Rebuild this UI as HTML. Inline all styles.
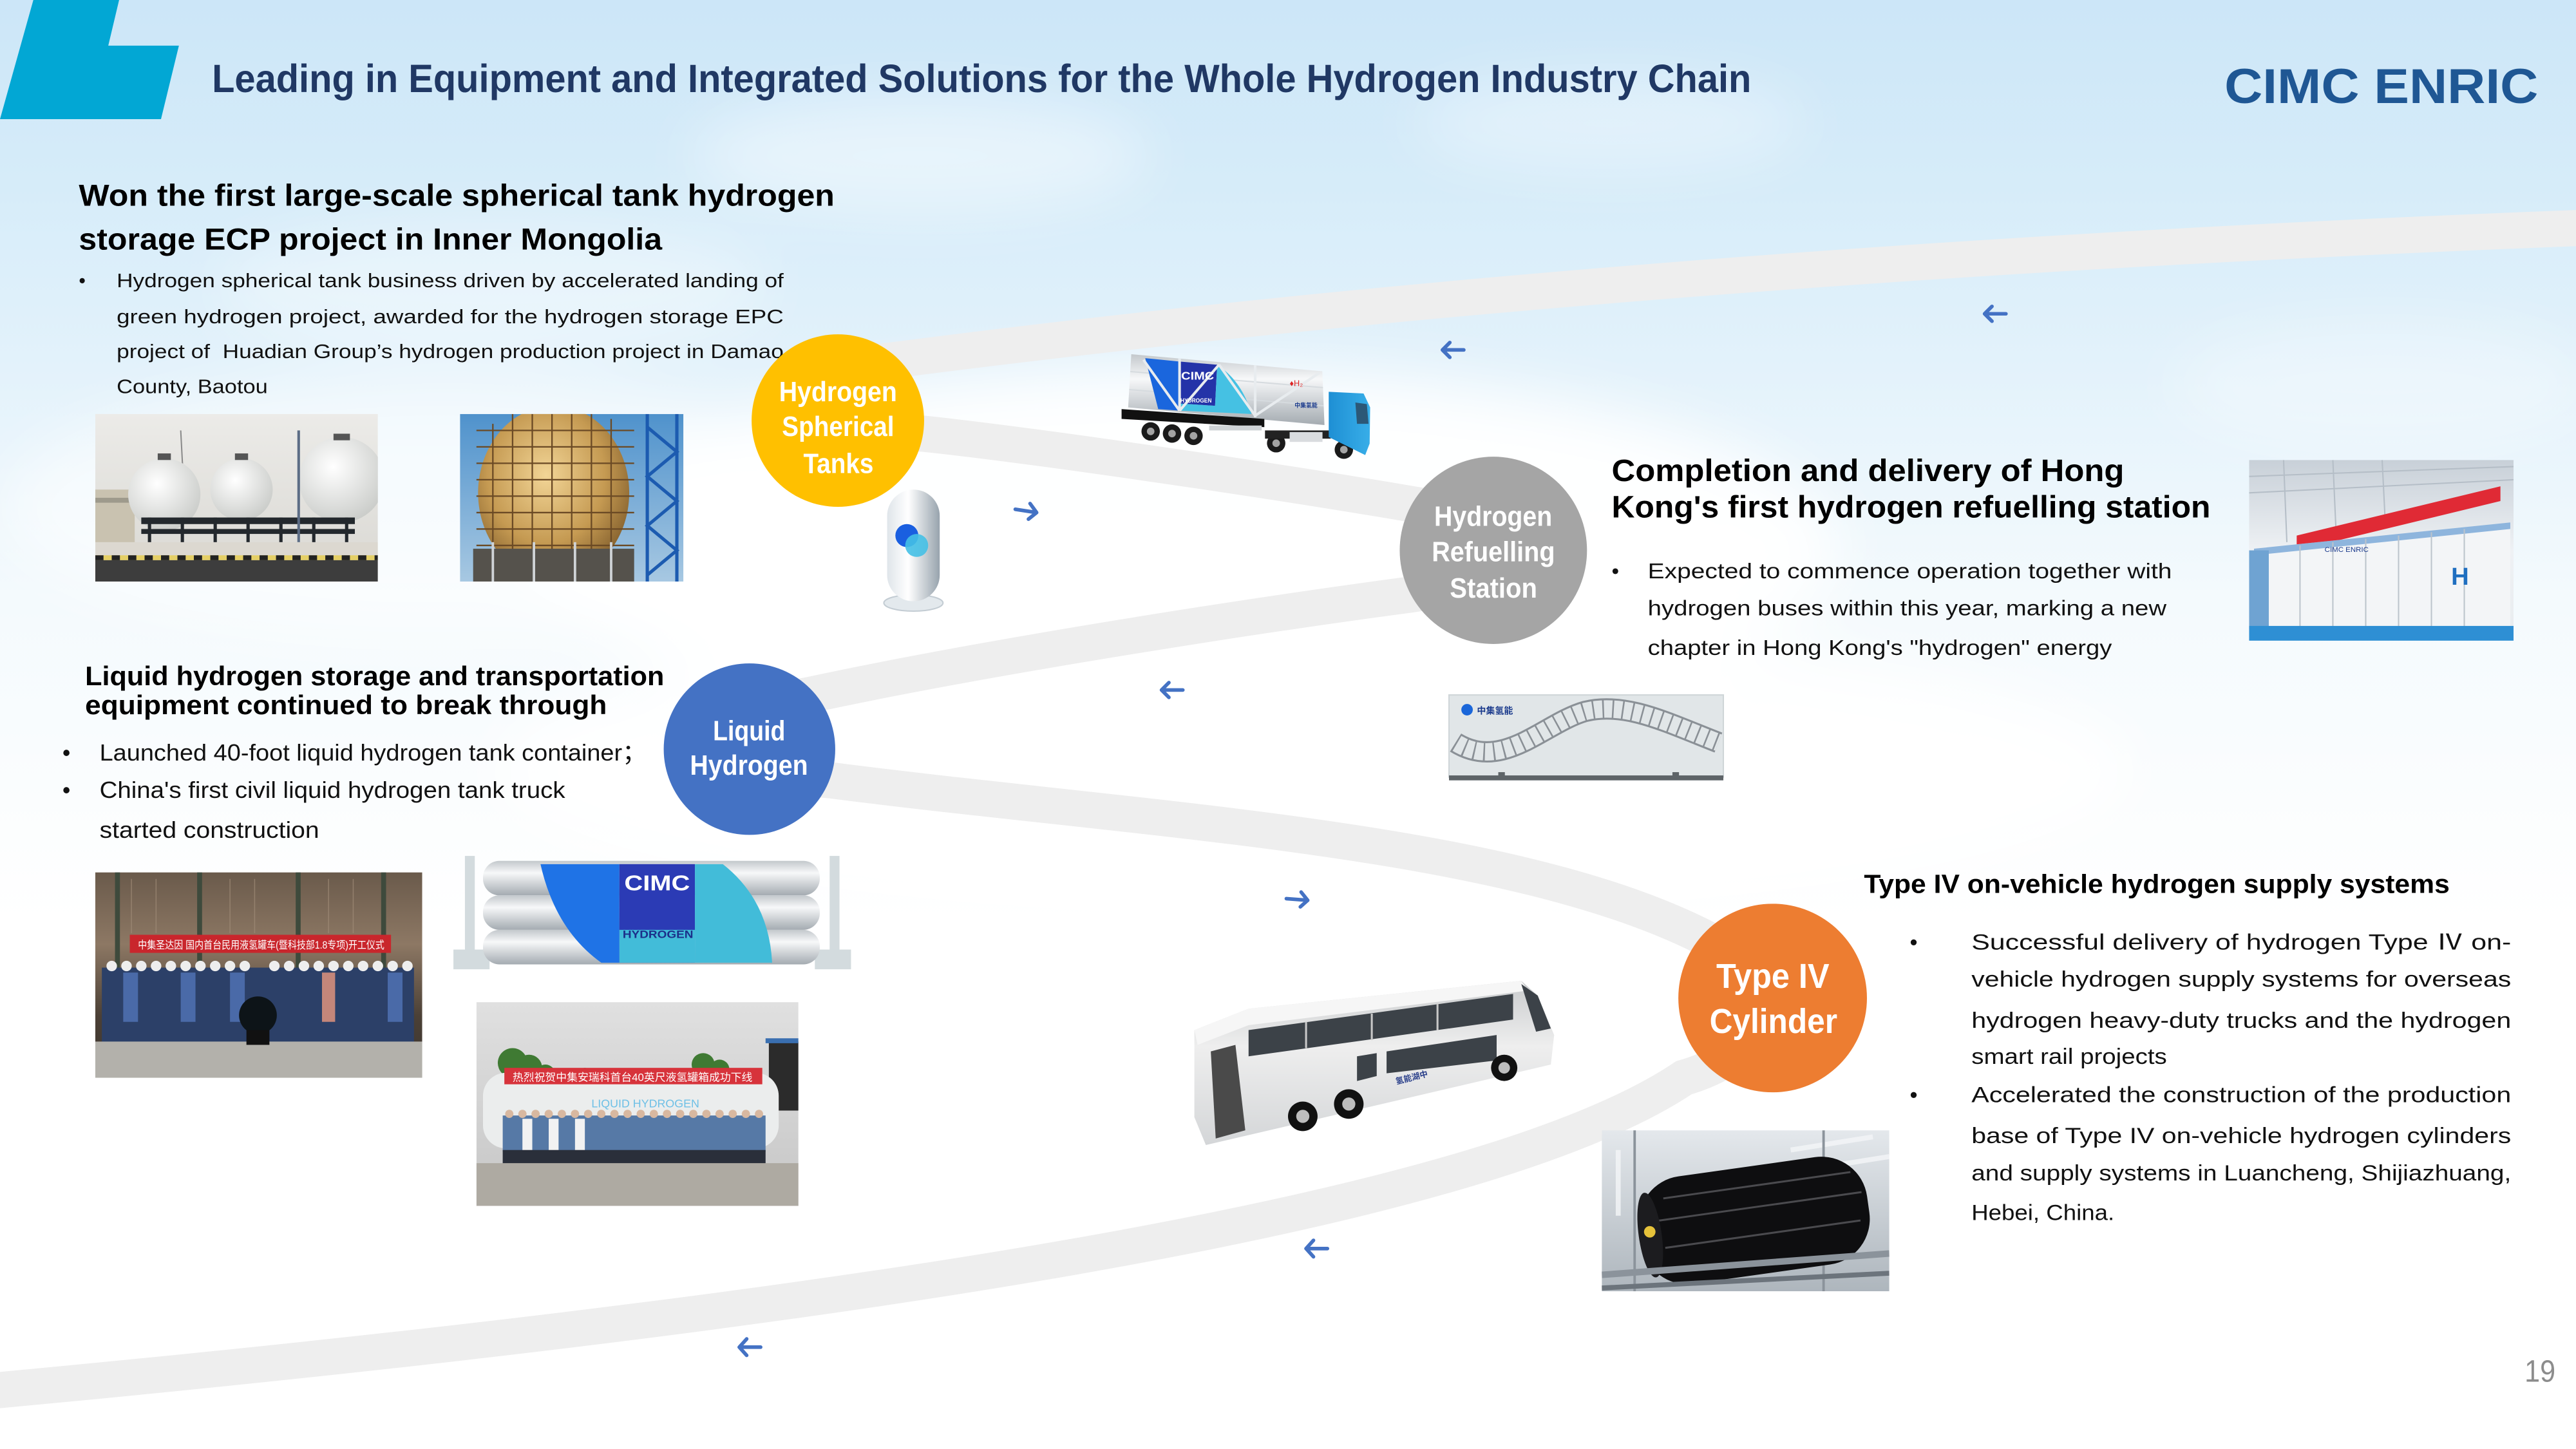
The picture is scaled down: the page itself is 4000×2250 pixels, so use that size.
<!DOCTYPE html>
<html><head><meta charset="utf-8"><title>CIMC ENRIC - Hydrogen Industry Chain</title>
<style>
html,body{margin:0;padding:0;width:4000px;height:2250px;overflow:hidden;background:#fff}
svg{display:block}
.t{font-family:"Liberation Sans","Noto Sans CJK SC",Arial,sans-serif}
.b{font-weight:bold}
</style></head><body>
<svg xmlns="http://www.w3.org/2000/svg" width="4000" height="2250" viewBox="0 0 1568 882">
<defs>
<linearGradient id="sky" x1="0" y1="0" x2="0" y2="1">
<stop offset="0" stop-color="#cce6f8"/><stop offset="0.2" stop-color="#d6ecf9"/><stop offset="0.4" stop-color="#e3f2fb"/><stop offset="0.65" stop-color="#f4fafd"/><stop offset="1" stop-color="#ffffff"/>
</linearGradient>
<filter id="blur" x="-50%" y="-50%" width="200%" height="200%"><feGaussianBlur stdDeviation="18"/></filter>
<linearGradient id="cyl" x1="0" y1="0" x2="0" y2="1"><stop offset="0" stop-color="#c3c8cc"/><stop offset="0.35" stop-color="#f7f8f9"/><stop offset="1" stop-color="#a4abb1"/></linearGradient>
<linearGradient id="caps" x1="0" y1="0" x2="1" y2="0"><stop offset="0" stop-color="#dfe5ea"/><stop offset="0.4" stop-color="#ffffff"/><stop offset="1" stop-color="#97a3ad"/></linearGradient>
<linearGradient id="p1sky" x1="0" y1="0" x2="0" y2="1"><stop offset="0" stop-color="#ecebe8"/><stop offset="1" stop-color="#d9d8d3"/></linearGradient>
<radialGradient id="sph" cx="0.4" cy="0.35" r="0.7"><stop offset="0" stop-color="#ffffff"/><stop offset="1" stop-color="#c9cbc8"/></radialGradient>
<linearGradient id="p2sky" x1="0" y1="0" x2="0" y2="1"><stop offset="0" stop-color="#4f92cc"/><stop offset="1" stop-color="#a7c8e2"/></linearGradient>
<radialGradient id="gold" cx="0.45" cy="0.4" r="0.65"><stop offset="0" stop-color="#f2d596"/><stop offset="0.6" stop-color="#c59a52"/><stop offset="1" stop-color="#7d5a2a"/></radialGradient>
<linearGradient id="rp" x1="0" y1="0" x2="0" y2="1"><stop offset="0" stop-color="#c8d0d8"/><stop offset="0.5" stop-color="#eef1f4"/><stop offset="1" stop-color="#e8ecef"/></linearGradient>
<linearGradient id="l1" x1="0" y1="0" x2="0" y2="1"><stop offset="0" stop-color="#6a5a4b"/><stop offset="0.35" stop-color="#8d7864"/><stop offset="0.7" stop-color="#4b4036"/><stop offset="1" stop-color="#3a342e"/></linearGradient>
<linearGradient id="l3" x1="0" y1="0" x2="0" y2="1"><stop offset="0" stop-color="#e0e0e0"/><stop offset="1" stop-color="#c6c6c6"/></linearGradient>
<linearGradient id="cp" x1="0" y1="0" x2="0" y2="1"><stop offset="0" stop-color="#e4e8ec"/><stop offset="1" stop-color="#aeb6bd"/></linearGradient>
<linearGradient id="bus" x1="0" y1="0" x2="0" y2="1"><stop offset="0" stop-color="#c9cbcd"/><stop offset="0.4" stop-color="#eeeeee"/><stop offset="1" stop-color="#d4d6d8"/></linearGradient>
<linearGradient id="cab" x1="0" y1="0" x2="1" y2="0"><stop offset="0" stop-color="#1e8fd4"/><stop offset="1" stop-color="#38aee8"/></linearGradient>
<clipPath id="c1"><rect x="58" y="252" width="172" height="102"/></clipPath>
<clipPath id="c2"><rect x="280" y="252" width="136" height="102"/></clipPath>
<clipPath id="c3"><rect x="1369" y="280" width="161" height="110"/></clipPath>
<clipPath id="c4"><rect x="58" y="531" width="199" height="125"/></clipPath>
<clipPath id="c5"><rect x="290" y="610" width="196" height="124"/></clipPath>
<clipPath id="c6"><rect x="975" y="688" width="175" height="98"/></clipPath>
<clipPath id="ctr"><polygon points="688.6,215.6 804.9,226 806.2,258.7 686.7,248"/></clipPath>
</defs>

<!-- background -->
<rect x="0" y="0" width="1568" height="882" fill="#ffffff"/>
<rect x="0" y="0" width="1568" height="560" fill="url(#sky)"/>
<g filter="url(#blur)">
<ellipse cx="720" cy="335" rx="400" ry="110" fill="#ffffff" opacity="0.95"/>
<ellipse cx="260" cy="310" rx="260" ry="80" fill="#ffffff" opacity="0.55"/>
<ellipse cx="560" cy="95" rx="140" ry="35" fill="#ffffff" opacity="0.45"/>
<ellipse cx="980" cy="75" rx="120" ry="30" fill="#ffffff" opacity="0.35"/>
<ellipse cx="300" cy="175" rx="170" ry="40" fill="#ffffff" opacity="0.35"/>
<ellipse cx="1450" cy="235" rx="130" ry="40" fill="#ffffff" opacity="0.3"/>
<ellipse cx="800" cy="470" rx="500" ry="90" fill="#ffffff" opacity="0.9"/>
</g>

<!-- top-left logo shape -->
<polygon points="20.3,0 72.5,0 65.9,27.8 108.9,27.8 98,72.5 0,72.5" fill="#02a7d4"/>

<!-- title -->
<text class="t b" x="129" y="56" font-size="24" fill="#203864" textLength="937" lengthAdjust="spacingAndGlyphs">Leading in Equipment and Integrated Solutions for the Whole Hydrogen Industry Chain</text>
<text class="t" x="1354" y="62.7" font-size="30" font-weight="900" fill="#1f5794" textLength="191" lengthAdjust="spacingAndGlyphs">CIMC ENRIC</text>

<!-- road band -->
<path d="M1590,138 Q1000,160 538,220 C500,225 488,262 562,264 C620,270 760,290 860,307 C930,318 930,352 858,362 C760,375 600,400 493,423 C440,432 440,470 506,475 C700,500 920,510 1040,572 C1090,598 1080,640 1025,656 C900,740 500,800 -20,848" fill="none" stroke="#eeeeee" stroke-width="22"/>

<!-- arrows -->
<g fill="none" stroke="#4472c4" stroke-width="2.2" stroke-linecap="round" stroke-linejoin="round">
<path d="M1221,191 L1208,191 M1212.5,186.5 L1208,191 L1212.5,195.5"/>
<path d="M891,213 L878,213 M882.5,208.5 L878,213 L882.5,217.5"/>
<path d="M618,310 L631,312 M627,306.5 L631,312 L626,316"/>
<path d="M720,420 L707,420 M711.5,415.5 L707,420 L711.5,424.5"/>
<path d="M783,547 L796,548 M792,543 L796,548 L791.5,552"/>
<path d="M808,760 L795,760 M799.5,755 L795,760 L799.5,765"/>
<path d="M463,820 L450,820 M454.5,815 L450,820 L454.5,825"/>
</g>

<!-- block 1 -->
<text class="t b" x="48" y="125.3" font-size="18.5" fill="#000" textLength="460" lengthAdjust="spacingAndGlyphs">Won the first large-scale spherical tank hydrogen</text>
<text class="t b" x="48" y="152" font-size="18.5" fill="#000" textLength="355" lengthAdjust="spacingAndGlyphs">storage ECP project in Inner Mongolia</text>
<g class="t" font-size="11.8" fill="#111">
<text x="48" y="174.8">•</text>
<text x="71" y="174.8" textLength="406" lengthAdjust="spacingAndGlyphs">Hydrogen spherical tank business driven by accelerated landing of</text>
<text x="71" y="196.8" textLength="406" lengthAdjust="spacingAndGlyphs">green hydrogen project, awarded for the hydrogen storage EPC</text>
<text x="71" y="218" textLength="406" lengthAdjust="spacingAndGlyphs">project of&#160; Huadian Group’s hydrogen production project in Damao</text>
<text x="71" y="239.3" textLength="92" lengthAdjust="spacingAndGlyphs">County, Baotou</text>
</g>

<!-- photo 1: spherical tanks -->
<g clip-path="url(#c1)">
<rect x="58" y="252" width="172" height="102" fill="url(#p1sky)"/>
<line x1="110" y1="262" x2="112" y2="300" stroke="#8a8a8a" stroke-width="0.8"/>
<rect x="58" y="298" width="24" height="42" fill="#c9c2b0"/>
<rect x="58" y="303" width="24" height="3" fill="#9e9a8c"/>
<circle cx="100" cy="301" r="22" fill="url(#sph)"/>
<circle cx="147" cy="298" r="19" fill="url(#sph)"/>
<circle cx="208" cy="292" r="26" fill="url(#sph)"/>
<rect x="96" y="276" width="8" height="4" fill="#555"/>
<rect x="143" y="276" width="8" height="4" fill="#555"/>
<rect x="203" y="264" width="10" height="4" fill="#555"/>
<rect x="86" y="315" width="130" height="4" fill="#23282d"/>
<rect x="86" y="322" width="130" height="3" fill="#23282d"/>
<g fill="#23282d"><rect x="90" y="315" width="2" height="26"/><rect x="110" y="315" width="2" height="26"/><rect x="130" y="315" width="2" height="26"/><rect x="150" y="315" width="2" height="26"/><rect x="170" y="315" width="2" height="26"/><rect x="190" y="315" width="2" height="26"/><rect x="210" y="315" width="2" height="26"/></g>
<rect x="181" y="262" width="1.6" height="80" fill="#5b6c85"/>
<rect x="58" y="330" width="172" height="10" fill="#dcd8d0"/>
<rect x="58" y="338" width="172" height="3" fill="#e5cf66"/>
<line x1="58" y1="339.5" x2="230" y2="339.5" stroke="#222" stroke-width="3" stroke-dasharray="5 5"/>
<rect x="58" y="341" width="172" height="13" fill="#3d3d3d"/>
</g>

<!-- photo 2: sphere under construction -->
<g clip-path="url(#c2)">
<rect x="280" y="252" width="136" height="102" fill="url(#p2sky)"/>
<ellipse cx="337" cy="300" rx="46" ry="53" fill="url(#gold)"/>
<g stroke="#6b4a25" stroke-width="0.9">
<line x1="290" y1="262" x2="386" y2="262"/><line x1="290" y1="272" x2="386" y2="272"/><line x1="290" y1="282" x2="386" y2="282"/><line x1="290" y1="292" x2="386" y2="292"/><line x1="290" y1="302" x2="386" y2="302"/><line x1="290" y1="312" x2="386" y2="312"/><line x1="290" y1="322" x2="386" y2="322"/><line x1="290" y1="332" x2="386" y2="332"/>
<line x1="300" y1="258" x2="300" y2="354"/><line x1="312" y1="252" x2="312" y2="354"/><line x1="324" y1="252" x2="324" y2="354"/><line x1="336" y1="252" x2="336" y2="354"/><line x1="348" y1="252" x2="348" y2="354"/><line x1="360" y1="252" x2="360" y2="354"/><line x1="372" y1="255" x2="372" y2="354"/>
</g>
<rect x="288" y="334" width="98" height="20" fill="#55524c"/>
<g stroke="#cfd3d6" stroke-width="1.5"><line x1="300" y1="330" x2="300" y2="354"/><line x1="325" y1="330" x2="325" y2="354"/><line x1="350" y1="330" x2="350" y2="354"/><line x1="372" y1="330" x2="372" y2="354"/></g>
<g stroke="#1c5bb0" stroke-width="2" fill="none"><line x1="394" y1="252" x2="394" y2="354"/><line x1="412" y1="252" x2="412" y2="354"/><path d="M394,260 L412,275 L394,290 L412,305 L394,320 L412,335 L394,350"/></g>
</g>

<!-- capsule tank -->
<ellipse cx="556" cy="367" rx="18" ry="5" fill="#e3e9ed" stroke="#c3ccd3" stroke-width="0.8"/>
<rect x="540" y="298" width="32" height="68" rx="16" fill="url(#caps)"/>
<circle cx="552" cy="326" r="7" fill="#1a5fe0"/>
<circle cx="558" cy="332" r="7" fill="#45c0e6" opacity="0.9"/>

<!-- truck -->
<g>
<polygon points="688.6,215.6 804.9,226 806.2,258.7 686.7,248" fill="url(#cyl)"/>
<g clip-path="url(#ctr)">
<g stroke="#d6dbdf" stroke-width="0.8"><line x1="686" y1="226" x2="806" y2="236"/><line x1="686" y1="237" x2="806" y2="247"/></g>
<polygon points="697.1,218 717.4,220 718.7,250 705,249" fill="#1a66dd"/>
<polygon points="717.4,220 740.9,222 739.6,247 717.4,245.6" fill="#2433a8"/>
<path d="M740.9,222 Q756,232 761.8,252 L718.7,250 L717.4,245.6 L739.6,247 Z" fill="#45c1e3"/>
<g stroke="#e8ecef" stroke-width="1.6"><line x1="696" y1="219" x2="718" y2="250"/><line x1="718" y1="250" x2="742" y2="222"/><line x1="742" y1="222" x2="764" y2="253"/><line x1="764" y1="253" x2="803" y2="227"/><line x1="718" y1="218" x2="718" y2="250"/><line x1="764" y1="222" x2="764" y2="254"/></g>
</g>
<text class="t b" x="719" y="231" font-size="7" fill="#ffffff" textLength="20" lengthAdjust="spacingAndGlyphs">CIMC</text>
<text class="t b" x="718.5" y="245" font-size="3.5" fill="#ffffff" textLength="19" lengthAdjust="spacingAndGlyphs">HYDROGEN</text>
<text class="t" x="785" y="235" font-size="5" fill="#d22">♦H₂</text>
<text class="t b" x="788" y="248" font-size="3.5" fill="#1a3a8c">中集氢能</text>
<polygon points="682.7,249 769.6,255 769.6,260 682.7,255" fill="#111"/>
<rect x="736" y="259" width="32" height="3" fill="#cfd3d6"/>
<g fill="#1a1a1a"><circle cx="700.4" cy="262.6" r="5.6"/><circle cx="713.4" cy="263.9" r="5.6"/><circle cx="726.5" cy="265.3" r="5.6"/><circle cx="776.8" cy="269.8" r="5.6"/><circle cx="818" cy="273.7" r="5.6"/></g>
<g fill="#a3a3a3"><circle cx="700.4" cy="262.6" r="2.3"/><circle cx="713.4" cy="263.9" r="2.3"/><circle cx="726.5" cy="265.3" r="2.3"/><circle cx="776.8" cy="269.8" r="2.3"/><circle cx="818" cy="273.7" r="2.3"/></g>
<rect x="770" y="262" width="40" height="5" fill="#222"/>
<rect x="785" y="263" width="20" height="6" fill="#d9dcdf"/>
<polygon points="808.8,238.5 830,239.5 834,248 833.7,270 831,277 808.8,266" fill="url(#cab)"/>
<polygon points="825,245 832,246 833,258 826,258" fill="#2c5877"/>
</g>

<!-- circles -->
<circle cx="510" cy="256" r="52.5" fill="#ffc000"/>
<circle cx="909" cy="335" r="57" fill="#a5a5a5"/>
<circle cx="456.2" cy="456" r="52.2" fill="#4472c4"/>
<circle cx="1079" cy="607.5" r="57.4" fill="#ed7d31"/>
<g class="t b" fill="#ffffff">
<text x="474.2" y="244.3" font-size="17" textLength="71.8" lengthAdjust="spacingAndGlyphs">Hydrogen</text>
<text x="476" y="265.4" font-size="17" textLength="68.3" lengthAdjust="spacingAndGlyphs">Spherical</text>
<text x="489" y="288" font-size="17" textLength="42.7" lengthAdjust="spacingAndGlyphs">Tanks</text>
<text x="873" y="320" font-size="17" textLength="71.8" lengthAdjust="spacingAndGlyphs">Hydrogen</text>
<text x="871.5" y="341.6" font-size="17" textLength="75" lengthAdjust="spacingAndGlyphs">Refuelling</text>
<text x="882.5" y="363.8" font-size="17" textLength="53.2" lengthAdjust="spacingAndGlyphs">Station</text>
<text x="434" y="450.7" font-size="17" textLength="44" lengthAdjust="spacingAndGlyphs">Liquid</text>
<text x="420" y="471.6" font-size="17" textLength="71.8" lengthAdjust="spacingAndGlyphs">Hydrogen</text>
<text x="1044.7" y="601.4" font-size="21" textLength="68.8" lengthAdjust="spacingAndGlyphs">Type IV</text>
<text x="1040.6" y="628.8" font-size="21" textLength="77.8" lengthAdjust="spacingAndGlyphs">Cylinder</text>
</g>

<!-- block 2 -->
<text class="t b" x="981" y="292.8" font-size="19" fill="#000" textLength="312" lengthAdjust="spacingAndGlyphs">Completion and delivery of Hong</text>
<text class="t b" x="981" y="315" font-size="19" fill="#000" textLength="364.5" lengthAdjust="spacingAndGlyphs">Kong's first hydrogen refuelling station</text>
<g class="t" font-size="13" fill="#111">
<text x="981" y="352">•</text>
<text x="1003" y="352" textLength="319" lengthAdjust="spacingAndGlyphs">Expected to commence operation together with</text>
<text x="1003" y="374.5" textLength="315.7" lengthAdjust="spacingAndGlyphs">hydrogen buses within this year, marking a new</text>
<text x="1003" y="398.7" textLength="282.5" lengthAdjust="spacingAndGlyphs">chapter in Hong Kong's "hydrogen" energy</text>
</g>

<!-- right photo: refuelling station -->
<g clip-path="url(#c3)">
<rect x="1369" y="280" width="161" height="110" fill="url(#rp)"/>
<g stroke="#b5bec7" stroke-width="0.8"><line x1="1369" y1="290" x2="1530" y2="284"/><line x1="1369" y1="300" x2="1530" y2="292"/><line x1="1390" y1="280" x2="1392" y2="330"/><line x1="1420" y1="280" x2="1422" y2="325"/><line x1="1450" y1="280" x2="1452" y2="320"/></g>
<polygon points="1398,326 1522,296 1522,305 1398,335" fill="#e02a35"/>
<polygon points="1372,334 1528,318 1528,386 1372,382" fill="#f3f5f7"/>
<polygon points="1372,334 1528,318 1528,322 1372,338" fill="#3a7fc8" opacity="0.55"/>
<g stroke="#bcc4cc" stroke-width="0.8"><line x1="1400" y1="332" x2="1400" y2="383"/><line x1="1420" y1="330" x2="1420" y2="383"/><line x1="1440" y1="328" x2="1440" y2="384"/><line x1="1460" y1="326" x2="1460" y2="384"/><line x1="1480" y1="324" x2="1480" y2="385"/><line x1="1500" y1="322" x2="1500" y2="385"/></g>
<rect x="1369" y="335" width="12" height="48" fill="#6fa3d2"/>
<text class="t b" x="1492" y="356" font-size="15" fill="#1f6fc0">H</text>
<text class="t" x="1415" y="336" font-size="4.5" fill="#1a3a8c">CIMC ENRIC</text>
<rect x="1369" y="381" width="161" height="9" fill="#2e8fd4"/>
</g>

<!-- station image -->
<rect x="882" y="423" width="167" height="50" fill="#e1e6e8" stroke="#cfd5d8" stroke-width="0.8"/>
<path d="M886,452 C915,470 940,440 965,433 C990,427 1015,440 1046,452" fill="none" stroke="#8a9096" stroke-width="13"/>
<path d="M886,452 C915,470 940,440 965,433 C990,427 1015,440 1046,452" fill="none" stroke="#e1e6e8" stroke-width="10.6"/>
<path d="M886,452 C915,470 940,440 965,433 C990,427 1015,440 1046,452" fill="none" stroke="#8a9096" stroke-width="11" stroke-dasharray="1 5"/>
<rect x="882" y="472" width="167" height="3" fill="#5e6468"/>
<rect x="912" y="470" width="4" height="3" fill="#5e6468"/><rect x="1018" y="470" width="4" height="3" fill="#5e6468"/>
<circle cx="893" cy="432" r="3.5" fill="#1a66d9"/>
<text class="t b" x="899" y="434.5" font-size="5.5" fill="#1a3a8c">中集氢能</text>

<!-- block 3 -->
<text class="t b" x="51.8" y="417" font-size="16.5" fill="#000" textLength="352.5" lengthAdjust="spacingAndGlyphs">Liquid hydrogen storage and transportation</text>
<text class="t b" x="51.8" y="434.7" font-size="16.5" fill="#000" textLength="317.6" lengthAdjust="spacingAndGlyphs">equipment continued to break through</text>
<g class="t" font-size="14" fill="#111">
<text x="38" y="463">•</text>
<text x="38" y="485.7">•</text>
<text x="60.6" y="463" textLength="333" lengthAdjust="spacingAndGlyphs">Launched 40-foot liquid hydrogen tank container；</text>
<text x="60.6" y="485.7" textLength="283.4" lengthAdjust="spacingAndGlyphs">China's first civil liquid hydrogen tank truck</text>
<text x="60.6" y="510" textLength="133.7" lengthAdjust="spacingAndGlyphs">started construction</text>
</g>

<!-- photo L1 -->
<g clip-path="url(#c4)">
<rect x="58" y="531" width="199" height="125" fill="url(#l1)"/>
<g stroke="#a08c78" stroke-width="0.6" opacity="0.7"><line x1="80" y1="535" x2="80" y2="568"/><line x1="95" y1="535" x2="95" y2="568"/><line x1="140" y1="535" x2="140" y2="568"/><line x1="155" y1="535" x2="155" y2="568"/><line x1="200" y1="535" x2="200" y2="568"/><line x1="215" y1="535" x2="215" y2="568"/></g>
<g fill="#3e4a3c"><rect x="70" y="531" width="3" height="60"/><rect x="120" y="531" width="3" height="60"/><rect x="180" y="531" width="3" height="60"/><rect x="232" y="531" width="3" height="60"/></g>
<rect x="79" y="569" width="159" height="11" fill="#c9262c"/>
<text class="t" x="84" y="577.5" font-size="6.5" fill="#ffffff" textLength="150" lengthAdjust="spacingAndGlyphs">中集圣达因  国内首台民用液氢罐车(暨科技部1.8专项)开工仪式</text>
<rect x="62" y="589" width="190" height="46" fill="#2c4068"/>
<g fill="#4a6aa8"><rect x="75" y="592" width="9" height="30"/><rect x="110" y="592" width="9" height="30"/><rect x="140" y="592" width="9" height="30"/><rect x="236" y="592" width="9" height="30"/></g>
<rect x="196" y="592" width="8" height="30" fill="#c4867a"/>
<g fill="#eeeeee"><circle cx="68" cy="588" r="3.2"/><circle cx="77" cy="588" r="3.2"/><circle cx="86" cy="588" r="3.2"/><circle cx="95" cy="588" r="3.2"/><circle cx="104" cy="588" r="3.2"/><circle cx="113" cy="588" r="3.2"/><circle cx="122" cy="588" r="3.2"/><circle cx="131" cy="588" r="3.2"/><circle cx="140" cy="588" r="3.2"/><circle cx="149" cy="588" r="3.2"/><circle cx="167" cy="588" r="3.2"/><circle cx="176" cy="588" r="3.2"/><circle cx="185" cy="588" r="3.2"/><circle cx="194" cy="588" r="3.2"/><circle cx="203" cy="588" r="3.2"/><circle cx="212" cy="588" r="3.2"/><circle cx="221" cy="588" r="3.2"/><circle cx="230" cy="588" r="3.2"/><circle cx="239" cy="588" r="3.2"/><circle cx="248" cy="588" r="3.2"/></g>
<rect x="58" y="634" width="199" height="22" fill="#b3b1ab"/>
<circle cx="157" cy="618" r="11.5" fill="#0d1418"/>
<rect x="150" y="627" width="14" height="9" fill="#111"/>
</g>

<!-- tank container -->
<g>
<rect x="283" y="521" width="6" height="62" fill="#d3dbde"/>
<rect x="276" y="578" width="22" height="12" fill="#d3dbde"/>
<rect x="505" y="521" width="6" height="62" fill="#d3dbde"/>
<rect x="496" y="578" width="22" height="12" fill="#d3dbde"/>
<rect x="294" y="524" width="205" height="21" rx="10" fill="url(#cyl)"/>
<rect x="294" y="545" width="205" height="21" rx="10" fill="url(#cyl)"/>
<rect x="294" y="566" width="205" height="21" rx="10" fill="url(#cyl)"/>
<path d="M329,526 L377,526 L377,586 L366,586 Q338,566 329,526 Z" fill="#1f73e6"/>
<rect x="377" y="526" width="46" height="60" fill="#2b3bb5"/>
<path d="M377,566 L423,566 L423,586 L377,586 Z" fill="#42bcd9"/>
<path d="M423,526 L440,526 Q468,548 470,586 L423,586 Z" fill="#42bcd9"/>
<text class="t b" x="380" y="542" font-size="13" fill="#ffffff" textLength="40" lengthAdjust="spacingAndGlyphs">CIMC</text>
<text class="t b" x="379" y="571" font-size="6.5" fill="#1c2f8a" textLength="43" lengthAdjust="spacingAndGlyphs">HYDROGEN</text>
</g>

<!-- photo L3 -->
<g clip-path="url(#c5)">
<rect x="290" y="610" width="196" height="124" fill="url(#l3)"/>
<rect x="468" y="634" width="18" height="42" fill="#2b2b2b"/>
<rect x="466" y="632" width="20" height="3" fill="#3a6fb0"/>
<g fill="#3f7a33"><circle cx="312" cy="647" r="9"/><circle cx="322" cy="650" r="8"/><circle cx="332" cy="654" r="6"/><circle cx="428" cy="648" r="7"/><circle cx="438" cy="651" r="6"/><circle cx="356" cy="654" r="4"/></g>
<rect x="294" y="653" width="180" height="46" rx="14" fill="#ebeded"/>
<rect x="307" y="650" width="157" height="10" fill="#d7333b"/>
<text class="t" x="312" y="658" font-size="6.5" fill="#ffffff" textLength="146" lengthAdjust="spacingAndGlyphs">热烈祝贺中集安瑞科首台40英尺液氢罐箱成功下线</text>
<text class="t" x="360" y="674" font-size="7" fill="#6ec0e6">LIQUID HYDROGEN</text>
<rect x="306" y="679" width="160" height="22" fill="#5679a6"/>
<g fill="#f2f2f2"><rect x="318" y="681" width="6" height="20"/><rect x="334" y="681" width="6" height="20"/><rect x="350" y="681" width="6" height="20"/></g>
<g fill="#d8b8a0"><circle cx="310" cy="678" r="2.5"/><circle cx="318" cy="678" r="2.5"/><circle cx="326" cy="678" r="2.5"/><circle cx="334" cy="678" r="2.5"/><circle cx="342" cy="678" r="2.5"/><circle cx="350" cy="678" r="2.5"/><circle cx="358" cy="678" r="2.5"/><circle cx="366" cy="678" r="2.5"/><circle cx="374" cy="678" r="2.5"/><circle cx="382" cy="678" r="2.5"/><circle cx="390" cy="678" r="2.5"/><circle cx="398" cy="678" r="2.5"/><circle cx="406" cy="678" r="2.5"/><circle cx="414" cy="678" r="2.5"/><circle cx="422" cy="678" r="2.5"/><circle cx="430" cy="678" r="2.5"/><circle cx="438" cy="678" r="2.5"/><circle cx="446" cy="678" r="2.5"/><circle cx="454" cy="678" r="2.5"/><circle cx="462" cy="678" r="2.5"/></g>
<rect x="306" y="700" width="160" height="9" fill="#2a2f3a"/>
<rect x="290" y="708" width="196" height="26" fill="#aeaaa2"/>
</g>

<!-- bus -->
<g>
<polygon points="727,627 760,614 926,597 936,606 946,630 944,648 734,697 727,680" fill="url(#bus)"/>
<polygon points="727,627 760,614 926,597 930,603 760,624 729,636" fill="#f6f6f6"/>
<polygon points="760,627 921,605 921,620.6 760,643" fill="#3c4248"/>
<g stroke="#c8c8c8" stroke-width="1.2"><line x1="795" y1="622" x2="795" y2="638"/><line x1="835" y1="617" x2="835" y2="633"/><line x1="875" y1="611" x2="875" y2="627"/></g>
<polygon points="926,599 936,606 944,626 935,628" fill="#3c4248"/>
<polygon points="844,640 911,630 911,645.5 844,653.3" fill="#3c4248"/>
<polygon points="826,643 838,641 838,655 826,658" fill="#3c4248"/>
<polygon points="737,640 752,636 758,688 740,693" fill="#4a4a4a"/>
<g fill="#111"><circle cx="793" cy="679.5" r="9"/><circle cx="821" cy="672" r="9"/><circle cx="915.6" cy="650" r="8"/></g>
<g fill="#bdbdbd"><circle cx="793" cy="679.5" r="4"/><circle cx="821" cy="672" r="4"/><circle cx="915.6" cy="650" r="3.5"/></g>
<text class="t b" x="850" y="660" font-size="5" fill="#2a3f8a" transform="rotate(-14 850 660)">氢能湖中</text>
</g>

<!-- block 4 -->
<text class="t b" x="1134.6" y="543.5" font-size="16" fill="#000" textLength="356.5" lengthAdjust="spacingAndGlyphs">Type IV on-vehicle hydrogen supply systems</text>
<g class="t" font-size="13.5" fill="#111">
<text x="1162.5" y="578">•</text>
<text x="1162.5" y="671">•</text>
<text x="1200" y="578" textLength="328.5" lengthAdjust="spacingAndGlyphs">Successful delivery of hydrogen Type Ⅳ on-</text>
<text x="1200" y="600.6" textLength="328.5" lengthAdjust="spacingAndGlyphs">vehicle hydrogen supply systems for overseas</text>
<text x="1200" y="625.6" textLength="328.5" lengthAdjust="spacingAndGlyphs">hydrogen heavy-duty trucks and the hydrogen</text>
<text x="1200" y="647.6" textLength="119" lengthAdjust="spacingAndGlyphs">smart rail projects</text>
<text x="1200" y="671" textLength="328.5" lengthAdjust="spacingAndGlyphs">Accelerated the construction of the production</text>
<text x="1200" y="695.8" textLength="328.5" lengthAdjust="spacingAndGlyphs">base of Type IV on-vehicle hydrogen cylinders</text>
<text x="1200" y="718.6" textLength="328.5" lengthAdjust="spacingAndGlyphs">and supply systems in Luancheng, Shijiazhuang,</text>
<text x="1200" y="742.6" textLength="87" lengthAdjust="spacingAndGlyphs">Hebei, China.</text>
</g>

<!-- cylinder photo -->
<g clip-path="url(#c6)">
<rect x="975" y="688" width="175" height="98" fill="url(#cp)"/>
<g stroke="#f4f6f8" stroke-width="3" opacity="0.8"><line x1="1090" y1="700" x2="1140" y2="692"/><line x1="1100" y1="712" x2="1150" y2="704"/><line x1="985" y1="700" x2="985" y2="740"/></g>
<g stroke="#8b939b" stroke-width="1.5"><line x1="995" y1="688" x2="995" y2="786"/><line x1="1110" y1="688" x2="1110" y2="786"/></g>
<g transform="rotate(-8 1067 744)">
<rect x="998" y="710" width="140" height="66" rx="28" fill="#0e0e10"/>
<g stroke="#4a4a4e" stroke-width="1.2"><line x1="1015" y1="722" x2="1130" y2="722"/><line x1="1010" y1="735" x2="1135" y2="735"/><line x1="1012" y1="752" x2="1132" y2="752"/></g>
<ellipse cx="1004" cy="743" rx="7" ry="26" fill="#1c1c1f"/>
<circle cx="1004" cy="741" r="3.5" fill="#e6c23a"/>
</g>
<line x1="975" y1="776" x2="1150" y2="763" stroke="#8b939b" stroke-width="4"/>
<line x1="975" y1="784" x2="1150" y2="775" stroke="#6c747c" stroke-width="3"/>
</g>

<!-- page number -->
<text class="t" x="1536.7" y="841" font-size="19" fill="#8c8c8c" textLength="18.8" lengthAdjust="spacingAndGlyphs">19</text>
</svg>
</body></html>
